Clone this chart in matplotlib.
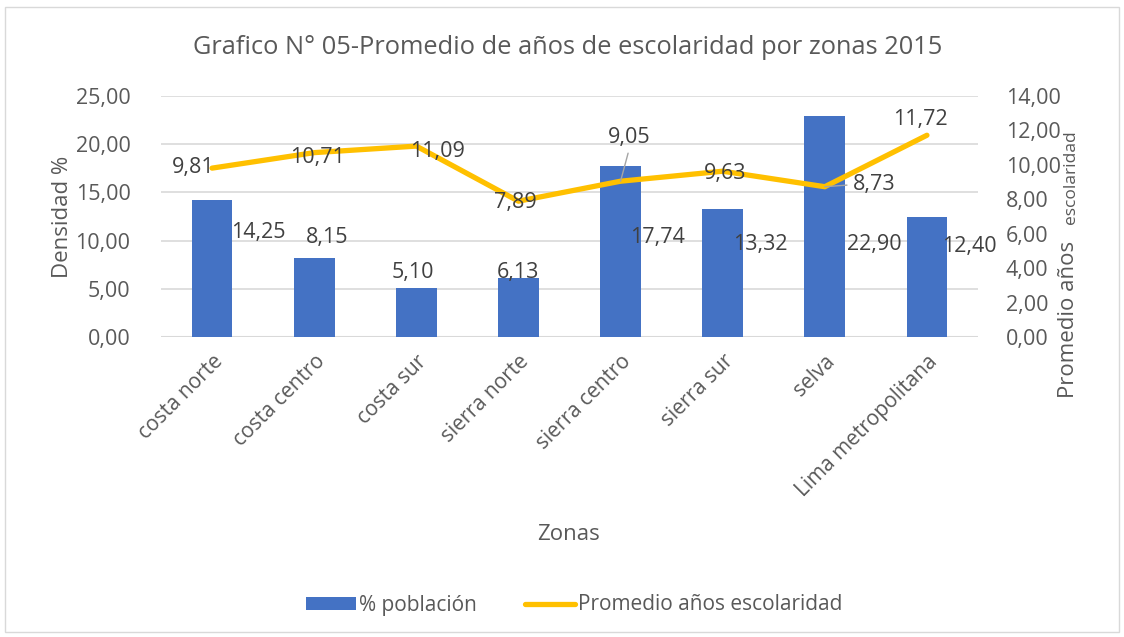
import matplotlib
matplotlib.use("Agg")
import matplotlib.pyplot as plt
from matplotlib.patches import Rectangle
from matplotlib.lines import Line2D
from matplotlib.patches import Patch

# ---- data ----
categories = ["costa norte", "costa centro", "costa sur", "sierra norte",
              "sierra centro", "sierra sur", "selva", "Lima metropolitana"]
poblacion = [14.25, 8.15, 5.10, 6.13, 17.74, 13.32, 22.90, 12.40]
escolaridad = [9.81, 10.71, 11.09, 7.89, 9.05, 9.63, 8.73, 11.72]
left_ticks = [0, 5, 10, 15, 20, 25]
right_ticks = [0, 2, 4, 6, 8, 10, 12, 14]

# label offsets (pixels) -- layout only
bar_label_off = [(46, -33), (13, 21), (-3, 15), (-1, 5), (37, -72), (38, -36), (50, -128), (42, -29)]
line_label_off = [(-19, 1), (3, -5), (21, -5), (-3, -1), (9, 44), (2, -2), (49, 2), (-7, 16)]
leader = {4: (0.5, 0.0), 6: (0.0, 0.5)}

FONT = ["Open Sans", "DejaVu Sans"]
plt.rcParams['font.family'] = FONT
TXT = "#595959"
LBL = "#404040"
BLUE = "#4472C4"
GOLD = "#FFC000"
GRID = "#D9D9D9"
FS = 15.5

def fmt(v):
    return f"{v:.2f}".replace(".", ",")

fig = plt.figure(figsize=(11.24, 6.37), dpi=100)
W, H = 1124, 637
fig.patches.append(Rectangle((5 / W, 1 - 632 / H), 1114 / W, 625 / H, transform=fig.transFigure,
                             fill=False, edgecolor=GRID, lw=1))

ax = fig.add_axes([161 / W, 1 - 337 / H, (978 - 161) / W, (337 - 96) / H])
ax2 = ax.twinx()

x = list(range(len(categories)))
ax.bar(x, poblacion, width=0.4, color=BLUE, zorder=2)
ax.set_xlim(-0.5, len(categories) - 0.5)
ax.set_ylim(0, 25)
ax.set_yticks(left_ticks)
ax.set_yticklabels([fmt(t) for t in left_ticks], fontsize=FS, color=TXT)
ax.yaxis.grid(True, color=GRID, lw=1.2, zorder=0)
ax.set_axisbelow(True)
for s in ax.spines.values():
    s.set_visible(False)
ax.tick_params(axis='both', length=0)
ax.tick_params(axis='y', pad=22)
ax.set_xticks(x)
ax.set_xticklabels(categories, rotation=45, ha='right', rotation_mode='anchor',
                   fontsize=15, color=TXT)
ax.tick_params(axis='x', pad=10)
ax.axhline(0, color=GRID, lw=1.5, zorder=1)

ax2.set_ylim(0, 14)
ax2.set_yticks(right_ticks)
ax2.set_yticklabels([fmt(t) for t in right_ticks], fontsize=FS, color=TXT)
ax2.tick_params(axis='y', length=0, pad=20)
for s in ax2.spines.values():
    s.set_visible(False)
ax2.plot(x, escolaridad, color=GOLD, lw=3.8, solid_joinstyle='round',
         solid_capstyle='round', zorder=3)

for i, v in enumerate(poblacion):
    dx, dy = bar_label_off[i]
    ax.annotate(fmt(v), (x[i], v), xytext=(dx, dy), textcoords='offset pixels',
                ha='center', va='center', fontsize=FS, color=LBL, zorder=5)

for i, v in enumerate(escolaridad):
    dx, dy = line_label_off[i]
    kw = {}
    if i in leader:
        kw['arrowprops'] = dict(arrowstyle='-', color='#A5A5A5', lw=1,
                                shrinkA=2, shrinkB=0, relpos=leader[i])
    ax2.annotate(fmt(v), (x[i], v), xytext=(dx, dy), textcoords='offset pixels',
                 ha='center', va='center', fontsize=FS, color=LBL, zorder=5, **kw)

fig.text(568 / W, 1 - 47 / H, "Grafico N° 05-Promedio de años de escolaridad por zonas 2015",
         ha='center', va='center', fontsize=18.3, color=TXT)
fig.text(62 / W, 1 - 217 / H, "Densidad %", rotation=90, ha='center', va='center',
         fontsize=16, color=TXT)
fig.text(1068 / W, 1 - 319 / H, "Promedio años", rotation=90, ha='center', va='center',
         fontsize=16, color=TXT)
fig.text(1071 / W, 1 - 177 / H, "escolaridad", rotation=90, ha='center', va='center',
         fontsize=12.5, color=TXT)
fig.text(568 / W, 1 - 535 / H, "Zonas", ha='center', va='center', fontsize=16, color=TXT)

handles = [Patch(facecolor=BLUE, edgecolor='none'),
           Line2D([0], [0], color=GOLD, lw=3.8, solid_capstyle='round')]
fig.legend(handles, ["% población", "Promedio años escolaridad"], loc='center',
           bbox_to_anchor=(574 / W, 1 - 605 / H), ncol=2, frameon=False,
           fontsize=15, labelcolor=TXT, handlelength=2.4, handleheight=0.6,
           handletextpad=0.15, columnspacing=2.3)

fig.savefig("out.png", dpi=100)
